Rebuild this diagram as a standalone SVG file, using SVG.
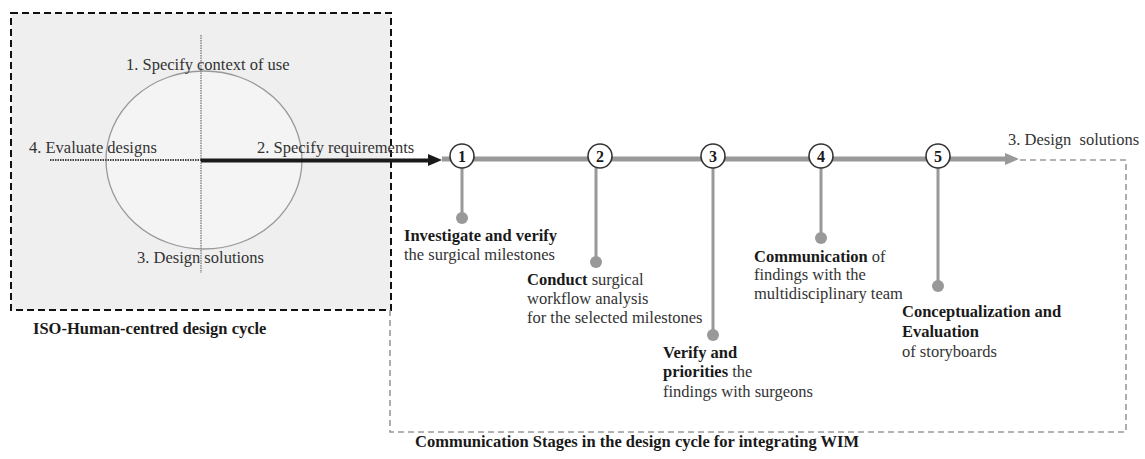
<svg xmlns="http://www.w3.org/2000/svg" width="1145" height="459" viewBox="0 0 1145 459">
<style>
text{font-family:"Liberation Serif","Times New Roman",serif;font-size:16.5px;fill:#333}
.b{font-weight:bold;fill:#1a1a1a}
.num{font-weight:bold;font-size:16px;fill:#1a1a1a;text-anchor:middle}
.stem{stroke:#999;stroke-width:3;fill:none}
.dot{fill:#999}
.node{fill:#fff;stroke:#333;stroke-width:1.6}
.gdash{stroke:#999;stroke-width:1.6;fill:none;stroke-dasharray:6,4}
</style>
<g id="iso-box">
<rect x="11" y="13" width="380" height="297" fill="#efefef" stroke="#111" stroke-width="2" stroke-dasharray="7,4"/>
<ellipse cx="204" cy="160" rx="98" ry="89" fill="#f4f4f4" stroke="#999" stroke-width="1.3"/>
<text x="126" y="70">1. Specify context of use</text>
<text x="29" y="153">4. Evaluate designs</text>
<text x="257" y="153">2. Specify requirements</text>
<text x="137" y="263">3. Design solutions</text>
<text class="b" x="33" y="334">ISO-Human-centred design cycle</text>
</g>
<g id="connectors">
<line x1="201" y1="35" x2="201" y2="273" stroke="#888" stroke-width="1.5" stroke-dasharray="1.5,1"/>
<line x1="50" y1="160" x2="201" y2="160" stroke="#444" stroke-width="2" stroke-dasharray="1.5,1"/>
<line x1="201" y1="160.5" x2="430" y2="160.5" stroke="#1a1a1a" stroke-width="4"/>
<polygon points="428,154 442,160 428,166" fill="#1a1a1a"/>
<line x1="442" y1="159" x2="1008" y2="159" stroke="#999" stroke-width="5"/>
<polygon points="1005,153 1019,159 1005,165" fill="#999"/>
<polyline class="gdash" points="1020,160 1126,160 1126,432 390,432 390,310"/>
<line class="stem" x1="462" y1="159" x2="462" y2="218"/>
<circle class="dot" cx="462" cy="218" r="6"/>
<line class="stem" x1="596" y1="159" x2="596" y2="262"/>
<circle class="dot" cx="596" cy="262" r="6"/>
<line class="stem" x1="713" y1="159" x2="713" y2="335"/>
<circle class="dot" cx="713" cy="335" r="6"/>
<line class="stem" x1="821" y1="159" x2="821" y2="238"/>
<circle class="dot" cx="821" cy="238" r="6"/>
<line class="stem" x1="938" y1="159" x2="938" y2="286"/>
<circle class="dot" cx="938" cy="286" r="6"/>
</g>
<g id="n1"><circle class="node" cx="462" cy="156" r="12"/><text class="num" x="462" y="162">1</text></g>
<g id="n2"><circle class="node" cx="600" cy="156" r="12"/><text class="num" x="600" y="162">2</text></g>
<g id="n3"><circle class="node" cx="713" cy="156" r="12"/><text class="num" x="713" y="162">3</text></g>
<g id="n4"><circle class="node" cx="821" cy="156" r="12"/><text class="num" x="821" y="162">4</text></g>
<g id="n5"><circle class="node" cx="938" cy="156" r="12"/><text class="num" x="938" y="162">5</text></g>
<g id="end-label"><text x="1008" y="145" xml:space="preserve">3. Design  solutions</text></g>
<g id="t1"><text class="b" x="404" y="241">Investigate and verify</text><text x="404" y="260">the surgical milestones</text></g>
<g id="t2"><text x="527" y="285"><tspan class="b">Conduct</tspan> surgical</text><text x="527" y="304">workflow analysis</text><text x="527" y="323">for the selected milestones</text></g>
<g id="t3"><text class="b" x="663" y="358">Verify and</text><text x="663" y="377"><tspan class="b">priorities</tspan> the</text><text x="663" y="397">findings with surgeons</text></g>
<g id="t4"><text x="754" y="262"><tspan class="b">Communication</tspan> of</text><text x="754" y="280">findings with the</text><text x="754" y="299">multidisciplinary team</text></g>
<g id="t5"><text class="b" x="902" y="317">Conceptualization and</text><text class="b" x="902" y="337">Evaluation</text><text x="902" y="357">of storyboards</text></g>
<g id="caption"><text class="b" x="415" y="447">Communication Stages in the design cycle for integrating WIM</text></g>
</svg>
